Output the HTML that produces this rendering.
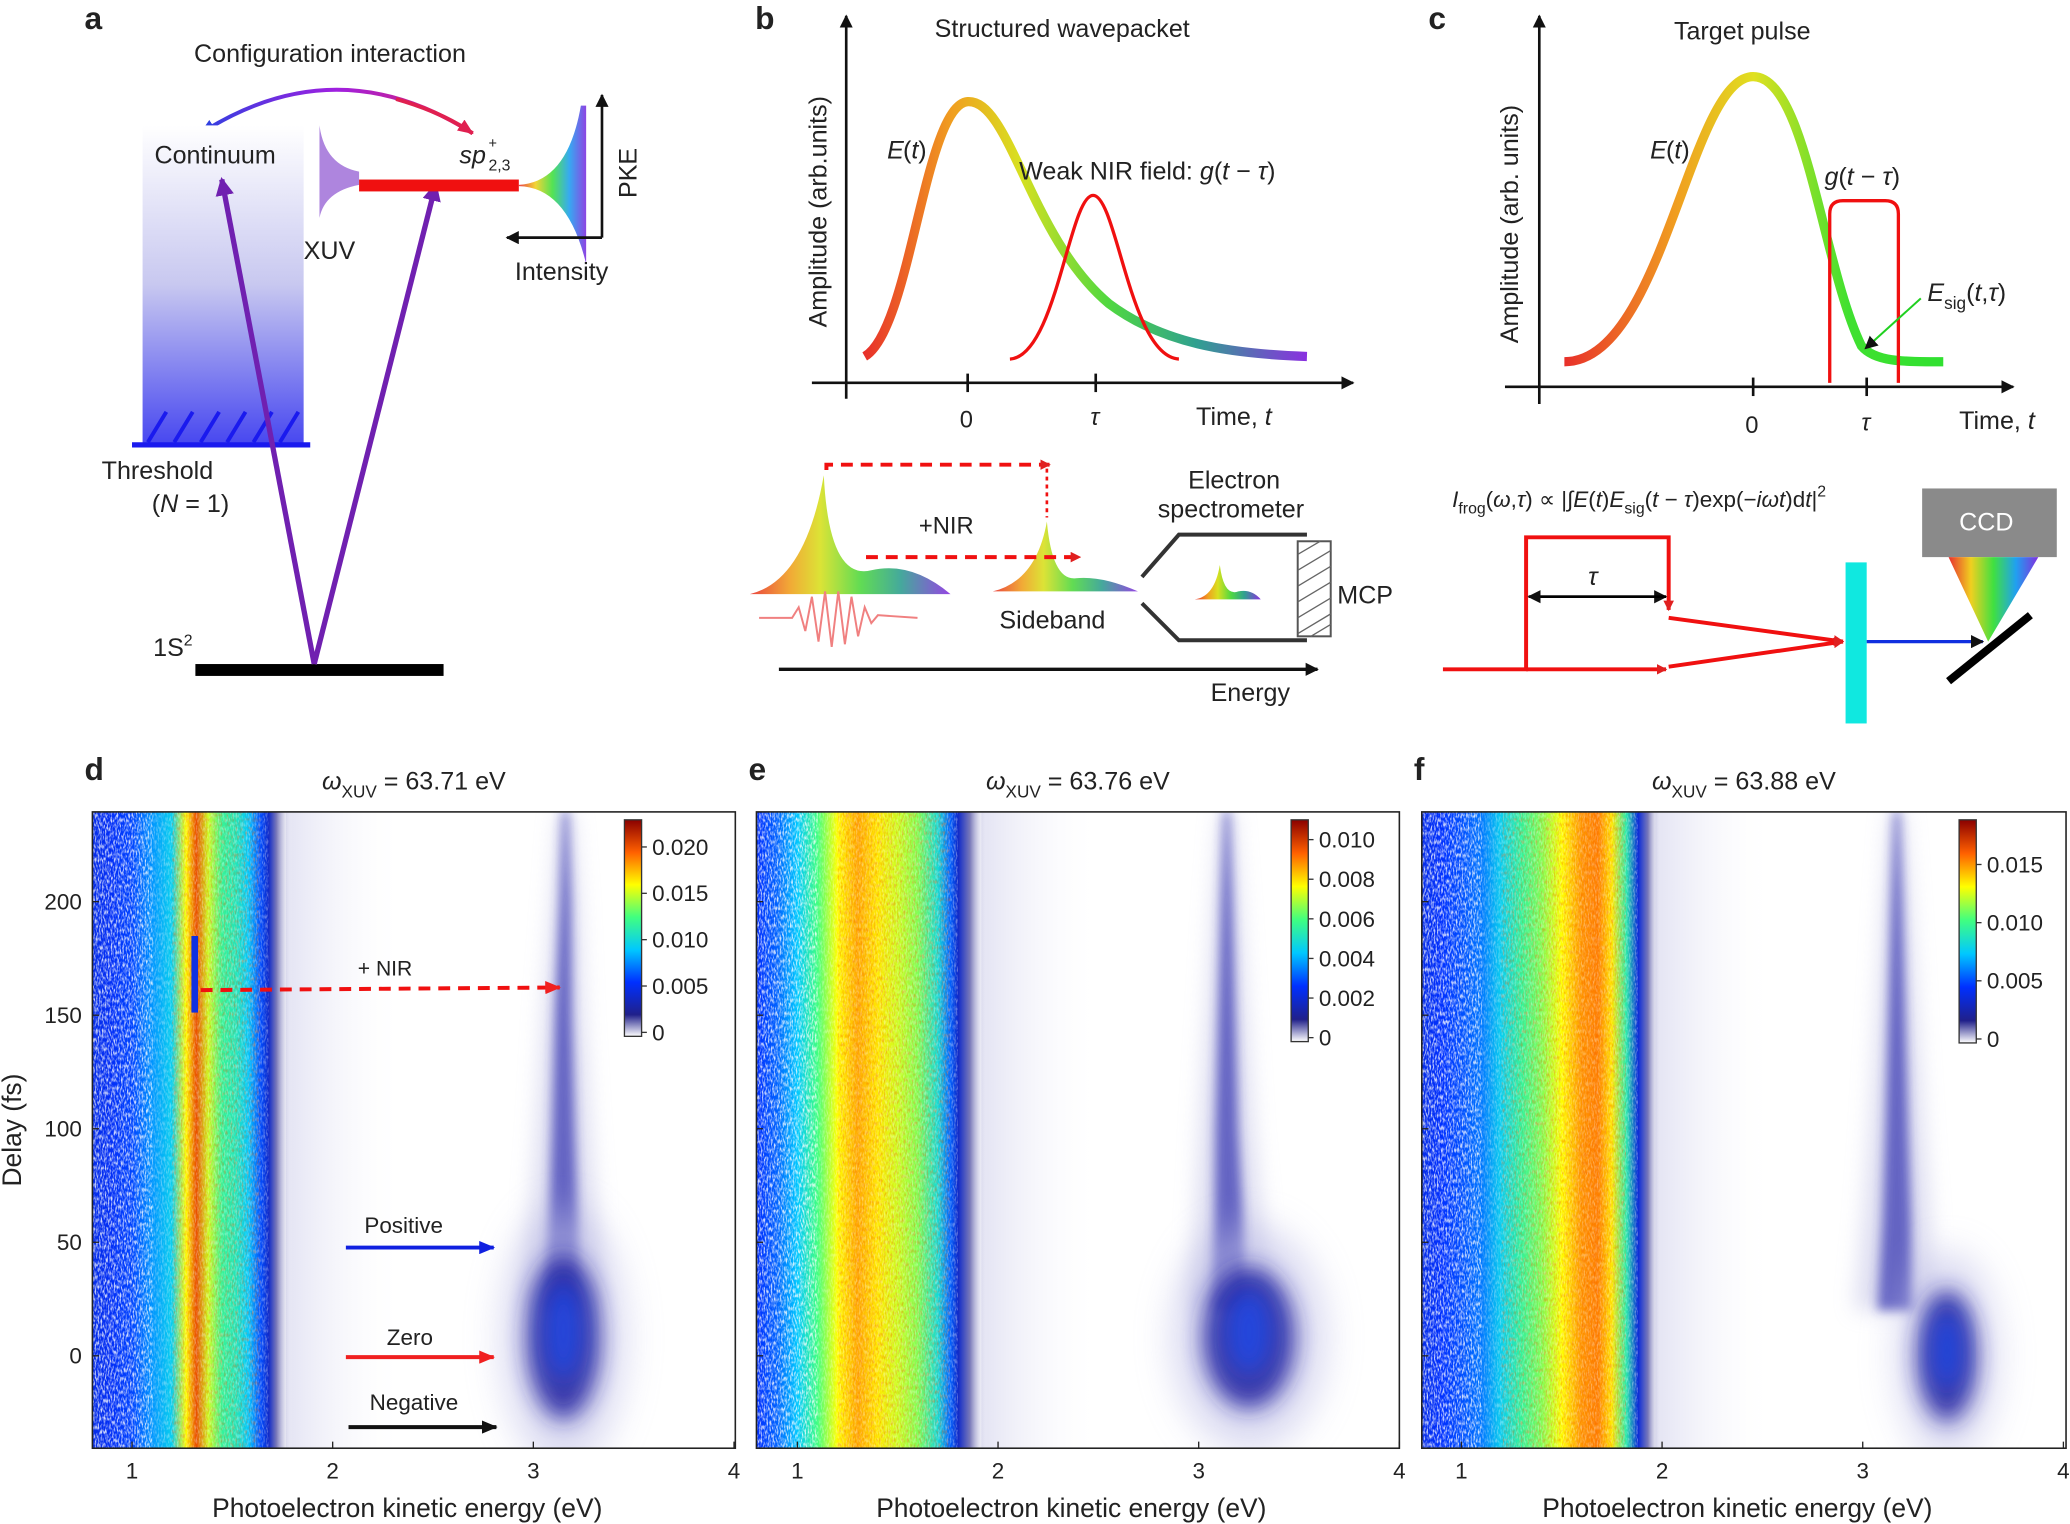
<!DOCTYPE html>
<html><head><meta charset="utf-8"><style>
html,body{margin:0;padding:0;background:#fff}
svg{display:block}
text{font-family:"Liberation Sans",sans-serif;fill:#222}
</style></head><body>
<svg id="fig" width="2070" height="1524" viewBox="0 0 1568 1154.4" preserveAspectRatio="none" xmlns="http://www.w3.org/2000/svg">
<defs>
<linearGradient id="contG" x1="0" y1="0" x2="0" y2="1"><stop offset="0" stop-color="#fff"/><stop offset="0.5" stop-color="#c8c8f0"/><stop offset="1" stop-color="#4848f0"/></linearGradient>
<linearGradient id="rainH" x1="0" y1="0" x2="1" y2="0"><stop offset="0" stop-color="#e8302a"/><stop offset="0.2" stop-color="#f0a020"/><stop offset="0.35" stop-color="#d8e020"/><stop offset="0.55" stop-color="#50d840"/><stop offset="0.75" stop-color="#30a090"/><stop offset="1" stop-color="#8a30e0"/></linearGradient>
<linearGradient id="rainC" x1="0" y1="0" x2="1" y2="0"><stop offset="0" stop-color="#e8302a"/><stop offset="0.3" stop-color="#f0a020"/><stop offset="0.5" stop-color="#e0e020"/><stop offset="0.75" stop-color="#40e030"/><stop offset="1" stop-color="#30e030"/></linearGradient>
<linearGradient id="arcG" x1="0" y1="0" x2="1" y2="0"><stop offset="0" stop-color="#3040e0"/><stop offset="0.5" stop-color="#a020e0"/><stop offset="1" stop-color="#e02060"/></linearGradient>
<linearGradient id="ccdG" x1="0" y1="0" x2="1" y2="0"><stop offset="0" stop-color="#e83030"/><stop offset="0.25" stop-color="#f0d020"/><stop offset="0.5" stop-color="#40e040"/><stop offset="0.75" stop-color="#20a0f0"/><stop offset="1" stop-color="#8030e0"/></linearGradient>
<linearGradient id="cmap" x1="0" y1="1" x2="0" y2="0"><stop offset="0" stop-color="#fff"/><stop offset="0.1" stop-color="#20208a"/><stop offset="0.25" stop-color="#0030ff"/><stop offset="0.4" stop-color="#00c8ff"/><stop offset="0.55" stop-color="#40ff80"/><stop offset="0.7" stop-color="#ffff00"/><stop offset="0.85" stop-color="#ff6000"/><stop offset="1" stop-color="#8a0000"/></linearGradient>
<filter id="noise" x="0" y="0" width="100%" height="100%"><feTurbulence type="fractalNoise" baseFrequency="0.9 0.3" numOctaves="2" seed="3"/><feColorMatrix values="0 0 0 0 1  0 0 0 0 1  0 0 0 0 1  0 0 0 -3 1.75"/></filter>
<filter id="noise2" x="0" y="0" width="100%" height="100%"><feTurbulence type="fractalNoise" baseFrequency="0.8 0.3" numOctaves="2" seed="7"/><feColorMatrix values="0 0 0 0 0.9  0 0 0 0 0.1  0 0 0 0 0  0 0 0 -3 1.6"/></filter>
<filter id="blur8" x="-50%" y="-50%" width="200%" height="200%"><feGaussianBlur stdDeviation="8"/></filter>
<filter id="blur14" x="-50%" y="-50%" width="200%" height="200%"><feGaussianBlur stdDeviation="14"/></filter>
<filter id="blur4" x="-50%" y="-50%" width="200%" height="200%"><feGaussianBlur stdDeviation="4"/></filter>
<marker id="mRed" markerWidth="8" markerHeight="8" refX="7" refY="4" orient="auto" markerUnits="userSpaceOnUse"><path d="M0,0L8,4L0,8z" fill="#e02020"/></marker>
<marker id="mBlue" markerWidth="12" markerHeight="10" refX="11" refY="5" orient="auto" markerUnits="userSpaceOnUse"><path d="M0,0L12,5L0,10z" fill="#1020e0"/></marker>
<marker id="mRed2" markerWidth="12" markerHeight="10" refX="11" refY="5" orient="auto" markerUnits="userSpaceOnUse"><path d="M0,0L12,5L0,10z" fill="#f02020"/></marker>
<marker id="mBlk" markerWidth="12" markerHeight="10" refX="11" refY="5" orient="auto" markerUnits="userSpaceOnUse"><path d="M0,0L12,5L0,10z" fill="#111"/></marker>
<marker id="mPur" markerWidth="14" markerHeight="14" refX="12" refY="7" orient="auto" markerUnits="userSpaceOnUse"><path d="M0,0L14,7L0,14z" fill="#7020b0"/></marker>
<marker id="mArc1" markerWidth="12" markerHeight="10" refX="11" refY="5" orient="auto" markerUnits="userSpaceOnUse"><path d="M0,0L12,5L0,10z" fill="#e02050"/></marker>
<marker id="mArc0" markerWidth="12" markerHeight="10" refX="11" refY="5" orient="auto" markerUnits="userSpaceOnUse"><path d="M0,0L12,5L0,10z" fill="#3040e0"/></marker>
<marker id="mK" markerWidth="10" markerHeight="10" refX="9" refY="5" orient="auto" markerUnits="userSpaceOnUse"><path d="M0,0L10,5L0,10z" fill="#111"/></marker>
</defs>

<!-- ===== Panel a ===== -->
<g>
<text x="64" y="22" font-size="24" font-weight="bold" fill="#000">a</text>
<text x="147" y="47" font-size="19">Configuration interaction</text>
<path d="M358,101 Q255,35 152,101" fill="none" stroke="url(#arcG)" stroke-width="3" marker-end="url(#mArc0)"/>
<path d="M300,75 Q335,85 358,101" fill="none" stroke="#e02050" stroke-width="3" marker-end="url(#mArc1)"/>
<rect x="108" y="95" width="122" height="241" fill="url(#contG)"/>
<text x="117" y="124" font-size="19">Continuum</text>
<line x1="100" y1="337" x2="235" y2="337" stroke="#1a1aee" stroke-width="4"/>
<g stroke="#1a1aee" stroke-width="3"><line x1="112" y1="335" x2="126" y2="312"/><line x1="132" y1="335" x2="146" y2="312"/><line x1="152" y1="335" x2="166" y2="312"/><line x1="172" y1="335" x2="186" y2="312"/><line x1="192" y1="335" x2="206" y2="312"/><line x1="212" y1="335" x2="226" y2="312"/></g>
<text x="77" y="363" font-size="19">Threshold</text>
<text x="115" y="388" font-size="19">(<tspan font-style="italic">N</tspan> = 1)</text>
<rect x="148" y="503" width="188" height="9" fill="#000"/>
<text x="116" y="497" font-size="19">1S<tspan dy="-8" font-size="12">2</tspan></text>
<line x1="238" y1="503" x2="168" y2="136" stroke="#7020b0" stroke-width="4" marker-end="url(#mPur)"/>
<line x1="238" y1="503" x2="330" y2="140" stroke="#7020b0" stroke-width="4" marker-end="url(#mPur)"/>
<path d="M242,95 Q246,125 272,130 L272,140 Q246,145 242,165 Z" fill="#a070d8" opacity="0.85"/>
<text x="230" y="196" font-size="19">XUV</text>
<rect x="272" y="136" width="121" height="9" fill="#f01010"/>
<text x="348" y="124" font-size="19" font-style="italic">sp</text><text x="370" y="112" font-size="11">+</text><text x="370" y="129" font-size="12">2,3</text>
<path d="M393,140 Q430,138 440,80 L444,80 L444,200 Q430,142 393,141 Z" fill="url(#ccdG)" opacity="0.9"/>
<line x1="456" y1="180" x2="456" y2="72" stroke="#111" stroke-width="2" marker-end="url(#mK)"/>
<line x1="456" y1="180" x2="384" y2="180" stroke="#111" stroke-width="2" marker-end="url(#mK)"/>
<text x="482" y="150" font-size="19" transform="rotate(-90 482 150)">PKE</text>
<text x="390" y="212" font-size="19">Intensity</text>
</g>

<!-- ===== Panel b ===== -->
<g>
<text x="572" y="22" font-size="24" font-weight="bold" fill="#000">b</text>
<text x="708" y="28" font-size="19">Structured wavepacket</text>
<line x1="641" y1="302" x2="641" y2="12" stroke="#111" stroke-width="2" marker-end="url(#mK)"/>
<line x1="615" y1="290" x2="1025" y2="290" stroke="#111" stroke-width="2" marker-end="url(#mK)"/>
<line x1="733" y1="283" x2="733" y2="297" stroke="#111" stroke-width="2"/>
<line x1="830" y1="283" x2="830" y2="297" stroke="#111" stroke-width="2"/>
<text x="727" y="324" font-size="18">0</text><text x="826" y="322" font-size="18" font-style="italic">τ</text>
<text x="906" y="322" font-size="19">Time, <tspan font-style="italic">t</tspan></text>
<text x="626" y="248" font-size="19" transform="rotate(-90 626 248)">Amplitude (arb.units)</text>
<path d="M655,270 C690,250 700,80 733,77 C765,75 780,180 840,230 C880,260 930,268 990,270" fill="none" stroke="url(#rainH)" stroke-width="7"/>
<path d="M765,272 C800,270 810,148 828,148 C846,148 856,270 893,272" fill="none" stroke="#f01010" stroke-width="2.5"/>
<text x="672" y="120" font-size="19" font-style="italic">E</text><text x="684" y="120" font-size="19">(<tspan font-style="italic">t</tspan>)</text>
<text x="772" y="136" font-size="19">Weak NIR field: <tspan font-style="italic">g</tspan>(<tspan font-style="italic">t</tspan> − <tspan font-style="italic">τ</tspan>)</text>
<path d="M568,450 Q610,440 624,360 Q628,440 660,432 Q690,425 720,450 Z" fill="url(#rainH)" opacity="0.9"/>
<path d="M752,448 Q785,440 793,395 Q797,440 815,438 Q835,436 862,448 Z" fill="url(#rainH)" opacity="0.9"/>
<path d="M575,468 L600,468 L605,460 L610,478 L615,452 L620,486 L625,448 L630,490 L635,448 L640,488 L645,452 L650,482 L655,460 L660,472 L665,466 L695,468" fill="none" stroke="#f08080" stroke-width="1.5"/>
<path d="M626,356 L626,352 L795,352" fill="none" stroke="#f01010" stroke-width="3" stroke-dasharray="9,6" marker-end="url(#mRed)"/>
<line x1="793" y1="355" x2="793" y2="392" stroke="#f01010" stroke-width="2" stroke-dasharray="3,3"/>
<path d="M656,422 L818,422" fill="none" stroke="#f01010" stroke-width="3" stroke-dasharray="9,6" marker-end="url(#mRed)"/>
<text x="696" y="404" font-size="18">+NIR</text>
<text x="757" y="476" font-size="19">Sideband</text>
<text x="900" y="370" font-size="19">Electron</text>
<text x="877" y="392" font-size="19">spectrometer</text>
<path d="M865,437 L893,405 L990,405 M865,457 L893,485 L990,485" fill="none" stroke="#333" stroke-width="3"/>
<rect x="983" y="410" width="25" height="72" fill="#fff" stroke="#555" stroke-width="1.5"/>
<g stroke="#666" stroke-width="1"><line x1="983" y1="420" x2="1000" y2="410"/><line x1="983" y1="432" x2="1008" y2="417"/><line x1="983" y1="444" x2="1008" y2="429"/><line x1="983" y1="456" x2="1008" y2="441"/><line x1="983" y1="468" x2="1008" y2="453"/><line x1="983" y1="480" x2="1008" y2="465"/><line x1="993" y1="482" x2="1008" y2="473"/></g>
<text x="1013" y="457" font-size="19">MCP</text>
<path d="M905,454 Q920,452 924,428 Q927,452 938,448 Q948,446 955,454 Z" fill="url(#rainH)"/>
<line x1="590" y1="507" x2="998" y2="507" stroke="#111" stroke-width="2.5" marker-end="url(#mK)"/>
<text x="917" y="531" font-size="19">Energy</text>
</g>

<!-- ===== Panel c ===== -->
<g>
<text x="1082" y="22" font-size="24" font-weight="bold" fill="#000">c</text>
<text x="1268" y="30" font-size="19">Target pulse</text>
<line x1="1166" y1="306" x2="1166" y2="12" stroke="#111" stroke-width="2" marker-end="url(#mK)"/>
<line x1="1140" y1="293" x2="1525" y2="293" stroke="#111" stroke-width="2" marker-end="url(#mK)"/>
<line x1="1328" y1="286" x2="1328" y2="300" stroke="#111" stroke-width="2"/>
<line x1="1414" y1="286" x2="1414" y2="300" stroke="#111" stroke-width="2"/>
<text x="1322" y="328" font-size="18">0</text><text x="1410" y="326" font-size="18" font-style="italic">τ</text>
<text x="1484" y="325" font-size="19">Time, <tspan font-style="italic">t</tspan></text>
<text x="1150" y="260" font-size="19" transform="rotate(-90 1150 260)">Amplitude (arb. units)</text>
<path d="M1185,274 C1260,274 1280,58 1328,58 C1368,58 1380,200 1410,262 C1420,274 1440,274 1472,274" fill="none" stroke="url(#rainC)" stroke-width="7"/>
<path d="M1386,290 L1386,162 Q1386,152 1396,152 L1428,152 Q1438,152 1438,162 L1438,290" fill="none" stroke="#f01010" stroke-width="2.5"/>
<text x="1250" y="120" font-size="19" font-style="italic">E</text><text x="1262" y="120" font-size="19">(<tspan font-style="italic">t</tspan>)</text>
<text x="1382" y="140" font-size="19"><tspan font-style="italic">g</tspan>(<tspan font-style="italic">t</tspan> − <tspan font-style="italic">τ</tspan>)</text>
<text x="1460" y="228" font-size="19"><tspan font-style="italic">E</tspan><tspan font-size="13" dy="6">sig</tspan><tspan dy="-6">(</tspan><tspan font-style="italic">t</tspan>,<tspan font-style="italic">τ</tspan>)</text>
<line x1="1455" y1="226" x2="1413" y2="264" stroke="#20d020" stroke-width="1.5" marker-end="url(#mK)"/>
<text x="1100" y="384" font-size="17"><tspan font-style="italic">I</tspan><tspan font-size="12" dy="5">frog</tspan><tspan dy="-5">(</tspan><tspan font-style="italic">ω</tspan>,<tspan font-style="italic">τ</tspan>) ∝ |∫<tspan font-style="italic">E</tspan>(<tspan font-style="italic">t</tspan>)<tspan font-style="italic">E</tspan><tspan font-size="12" dy="5">sig</tspan><tspan dy="-5">(</tspan><tspan font-style="italic">t</tspan> − <tspan font-style="italic">τ</tspan>)exp(−<tspan font-style="italic">iωt</tspan>)d<tspan font-style="italic">t</tspan>|<tspan font-size="12" dy="-8">2</tspan></text>
<rect x="1456" y="370" width="102" height="52" fill="#8a8a8a"/>
<text x="1484" y="402" font-size="19" style="fill:#fff">CCD</text>
<path d="M1476,422 L1544,422 L1506,486 Z" fill="url(#ccdG)"/>
<line x1="1476" y1="516" x2="1538" y2="466" stroke="#000" stroke-width="6"/>
<path d="M1093,507 L1156,507 L1156,407 L1264,407 L1264,462" fill="none" stroke="#f01010" stroke-width="3" marker-end="url(#mRed)"/>
<line x1="1156" y1="507" x2="1262" y2="507" stroke="#f01010" stroke-width="3" marker-end="url(#mRed)"/>
<line x1="1158" y1="452" x2="1262" y2="452" stroke="#000" stroke-width="2" marker-end="url(#mK)"/>
<line x1="1262" y1="452" x2="1158" y2="452" stroke="#000" stroke-width="2" marker-end="url(#mK)"/>
<text x="1203" y="443" font-size="19" font-style="italic">τ</text>
<line x1="1264" y1="468" x2="1396" y2="486" stroke="#f01010" stroke-width="3" marker-end="url(#mRed)"/>
<line x1="1264" y1="505" x2="1396" y2="486" stroke="#f01010" stroke-width="3" marker-end="url(#mRed)"/>
<rect x="1398" y="426" width="16" height="122" fill="#10e8e0"/>
<line x1="1414" y1="486" x2="1502" y2="486" stroke="#1030e0" stroke-width="2.5" marker-end="url(#mK)"/>
</g>

<g id="heatmaps"></g>
</svg>
<script>
// ===== Heatmap data =====
const bandE_d = [0.8, 0.9, 1.0, 1.1, 1.2, 1.27, 1.32, 1.38, 1.45, 1.52, 1.58, 1.64, 1.68, 1.72, 1.8];
const bandI_d = [0.22, 0.24, 0.27, 0.35, 0.42, 0.7, 0.88, 0.66, 0.52, 0.48, 0.4, 0.28, 0.18, 0.06, 0.0];
const bandE_e = [0.8, 0.9, 1.0, 1.1, 1.2, 1.3, 1.4, 1.5, 1.6, 1.7, 1.76, 1.8, 1.86, 1.95];
const bandI_e = [0.25, 0.3, 0.4, 0.55, 0.7, 0.78, 0.72, 0.66, 0.6, 0.45, 0.3, 0.18, 0.06, 0.0];
const bandE_f = [0.8, 0.9, 1.0, 1.1, 1.2, 1.3, 1.4, 1.5, 1.6, 1.68, 1.75, 1.82, 1.88, 1.93, 2.0];
const bandI_f = [0.22, 0.25, 0.28, 0.32, 0.42, 0.52, 0.6, 0.7, 0.8, 0.82, 0.72, 0.5, 0.2, 0.06, 0.0];
// sideband blob [energy eV, delay fs, width eV, height fs]
const blob_d = [3.15, 8, 0.16, 30];
const blob_e = [3.25, 8, 0.2, 26];
const blob_f = [3.42, 0, 0.13, 24];
// tail ridge energy vs delay
const tailDelay = [20, 60, 100, 150, 200, 240];
const tailE_d = [3.14, 3.15, 3.15, 3.15, 3.16, 3.16];
const tailE_e = [3.15, 3.15, 3.14, 3.14, 3.14, 3.14];
const tailE_f = [3.16, 3.17, 3.17, 3.17, 3.17, 3.17];
const xTicks = [1, 2, 3, 4];
const yTicks = [0, 50, 100, 150, 200];
const cbTicks_d = [0, 0.005, 0.010, 0.015, 0.020];
const cbTicks_e = [0, 0.002, 0.004, 0.006, 0.008, 0.010];
const cbTicks_f = [0, 0.005, 0.010, 0.015];
const cbMax = [0.0225, 0.0108, 0.0185];
const titles = ["63.71", "63.76", "63.88"];

const NS = "http://www.w3.org/2000/svg";
const root = document.getElementById('heatmaps');
const defs = document.querySelector('defs');
function mk(tag, attrs, parent){const e=document.createElementNS(NS,tag);for(const k in attrs)e.setAttribute(k,attrs[k]);(parent||root).appendChild(e);return e;}
const cmapStops=[[0,[255,255,255]],[0.1,[32,32,138]],[0.25,[0,48,255]],[0.4,[0,200,255]],[0.55,[64,255,128]],[0.7,[255,255,0]],[0.85,[255,96,0]],[1,[138,0,0]]];
function cmap(v){v=Math.max(0,Math.min(1,v));for(let i=1;i<cmapStops.length;i++){if(v<=cmapStops[i][0]){const a=cmapStops[i-1],b=cmapStops[i];const t=(v-a[0])/(b[0]-a[0]);const c=a[1].map((x,j)=>Math.round(x+(b[1][j]-x)*t));return `rgb(${c})`;}}return 'rgb(138,0,0)';}

const panels=[
 {L:'d',x0:70,x1:557,eAt1:100,ppe:152,band:[bandE_d,bandI_d],blob:blob_d,tail:tailE_d,cb:cbTicks_d,cbx:473,cby0:621,cby1:785},
 {L:'e',x0:573,x1:1060,eAt1:604,ppe:152,band:[bandE_e,bandI_e],blob:blob_e,tail:tailE_e,cb:cbTicks_e,cbx:978,cby0:621,cby1:789},
 {L:'f',x0:1077,x1:1565,eAt1:1107,ppe:152,band:[bandE_f,bandI_f],blob:blob_f,tail:tailE_f,cb:cbTicks_f,cbx:1484,cby0:621,cby1:790}
];
const yTop=615,yBot=1097;
function yOf(d){return 1027-d*1.72;}

panels.forEach((p,pi)=>{
  const xOf=e=>p.eAt1+(e-1)*p.ppe;
  const g=mk('g',{});
  
  
  const cid='clip'+p.L;
  const cp=mk('clipPath',{id:cid},defs);mk('rect',{x:p.x0,y:yTop,width:p.x1-p.x0,height:yBot-yTop},cp);
  const inner=mk('g',{'clip-path':`url(#${cid})`},g);
  mk('rect',{x:p.x0,y:yTop,width:p.x1-p.x0,height:yBot-yTop,fill:'#fff'},inner);
  const bE=p.band[0], bI=p.band[1];
  const eEnd=bE[bE.length-1];
  // faint haze right of band
  const hid='haze'+p.L;
  const hg=mk('linearGradient',{id:hid,x1:0,y1:0,x2:1,y2:0},defs);
  mk('stop',{offset:0,'stop-color':'#dcdcf0','stop-opacity':0.8},hg);mk('stop',{offset:1,'stop-color':'#fff','stop-opacity':0},hg);
  mk('rect',{x:xOf(eEnd)-5,y:yTop,width:90,height:yBot-yTop,fill:`url(#${hid})`},inner);
  // band gradient
  const gid='band'+p.L;
  const lg=mk('linearGradient',{id:gid,gradientUnits:'userSpaceOnUse',x1:xOf(bE[0]),y1:0,x2:xOf(eEnd),y2:0},defs);
  const span=eEnd-bE[0];
  bE.forEach((e,i)=>{const st=mk('stop',{offset:(e-bE[0])/span,'stop-color':cmap(bI[i])},lg);if(i===bE.length-1)st.setAttribute('stop-opacity',0);});
  const band=mk('rect',{x:p.x0,y:yTop,width:xOf(eEnd)-p.x0,height:yBot-yTop,fill:`url(#${gid})`},inner);
  
  
  // noise overlays
  mk('rect',{x:p.x0,y:yTop,width:xOf(bE[3])-p.x0,height:yBot-yTop,filter:'url(#noise)',opacity:0.8},inner);
  mk('rect',{x:xOf(bE[3]),y:yTop,width:xOf(bE[bE.length-3])-xOf(bE[3]),height:yBot-yTop,filter:'url(#noise)',opacity:0.35},inner);
  mk('rect',{x:xOf(bE[4]),y:yTop,width:xOf(bE[bE.length-4])-xOf(bE[4]),height:yBot-yTop,filter:'url(#noise2)',opacity:0.35},inner);
  // tail (halo + core)
  const pts=p.tail.map((e,i)=>[xOf(e),yOf(tailDelay[i])]);
  function ribbon(w0,dw){let a='',b='';pts.forEach((q,i)=>{a+=(i?'L':'M')+(q[0]-(w0-i*dw))+','+q[1];});
    for(let i=pts.length-1;i>=0;i--){b+='L'+(pts[i][0]+(w0-i*dw))+','+pts[i][1];}return a+b+'Z';}
  mk('path',{d:ribbon(30,5),fill:'#c4c4e6',opacity:0.6,filter:'url(#blur8)'},inner);
  const tail=mk('path',{d:ribbon(13,2.2),fill:'#3030b0',opacity:0.7,filter:'url(#blur4)'},inner);
  
  
  // blob
  const bx=xOf(p.blob[0]),by=yOf(p.blob[1]),rx=p.blob[2]*p.ppe,ry=p.blob[3]*1.72;
  mk('ellipse',{cx:bx,cy:by,rx:rx*1.9,ry:ry*1.9,fill:'#b8b8e4',opacity:0.55,filter:'url(#blur14)'},inner);
  mk('ellipse',{cx:bx,cy:by,rx:rx*1.15,ry:ry*1.2,fill:'#2424a0',opacity:0.85,filter:'url(#blur8)'},inner);
  const blob=mk('ellipse',{cx:bx,cy:by-ry*0.1,rx:rx*0.55,ry:ry*0.7,fill:'#1a4ae8',opacity:0.8,filter:'url(#blur8)'},inner);
  
  
  // frame
  mk('rect',{x:p.x0,y:yTop,width:p.x1-p.x0,height:yBot-yTop,fill:'none',stroke:'#222','stroke-width':1.2},g);
  xTicks.forEach(t=>{const x=xOf(t);mk('line',{x1:x,y1:yBot,x2:x,y2:yBot-5,stroke:'#222'},g);
    const tx=mk('text',{x:x,y:yBot+23,'font-size':17,'text-anchor':'middle'},g);tx.textContent=t;
    
    });
  const xl=mk('text',{x:(p.x0+p.x1)/2-5,y:1149,'font-size':20,'text-anchor':'middle'},g);xl.textContent='Photoelectron kinetic energy (eV)';
  
  
  yTicks.forEach(t=>{const y=yOf(t);mk('line',{x1:p.x0,y1:y,x2:p.x0+5,y2:y,stroke:'#222'},g);
    if(pi===0){const tx=mk('text',{x:62,y:y+6,'font-size':17,'text-anchor':'end'},g);tx.textContent=t;
      
      }});
  const lt=mk('text',{x:p.x0-6,y:591,'font-size':24,'font-weight':'bold'},g);lt.textContent=p.L;
  const tt=mk('text',{x:(p.x0+p.x1)/2,y:598,'font-size':19,'text-anchor':'middle'},g);
  tt.innerHTML=`<tspan font-style="italic">ω</tspan><tspan font-size="13" dy="6">XUV</tspan><tspan dy="-6"> = ${titles[pi]} eV</tspan>`;
  
  
  const cb=mk('rect',{x:p.cbx,y:p.cby0,width:13,height:p.cby1-p.cby0,fill:'url(#cmap)',stroke:'#333','stroke-width':1},g);
  
  
  const cbY=v=>p.cby1-3-(v/cbMax[pi])*(p.cby1-p.cby0-6);
  p.cb.forEach(v=>{const y=cbY(v);mk('line',{x1:p.cbx+13,y1:y,x2:p.cbx+17,y2:y,stroke:'#333'},g);
    const tx=mk('text',{x:p.cbx+21,y:y+6,'font-size':17},g);tx.textContent=v===0?'0':v.toFixed(3);
    
    });
});
const yt=mk('text',{x:16,y:856,'font-size':20,'text-anchor':'middle',transform:'rotate(-90 16 856)'});yt.textContent='Delay (fs)';


const ann=mk('g',{});


mk('rect',{x:145,y:709,width:5,height:58,fill:'#1030e0'},ann);
mk('line',{x1:152,y1:750,x2:424,y2:748,stroke:'#f01010','stroke-width':3,'stroke-dasharray':'9,6','marker-end':'url(#mRed2)'},ann);
let t=mk('text',{x:271,y:739,'font-size':16},ann);t.textContent='+ NIR';
t=mk('text',{x:276,y:934,'font-size':17},ann);t.textContent='Positive';
mk('line',{x1:262,y1:945,x2:374,y2:945,stroke:'#1020e0','stroke-width':3,'marker-end':'url(#mBlue)'},ann);
t=mk('text',{x:293,y:1019,'font-size':17},ann);t.textContent='Zero';
mk('line',{x1:262,y1:1028,x2:374,y2:1028,stroke:'#f02020','stroke-width':3,'marker-end':'url(#mRed2)'},ann);
t=mk('text',{x:280,y:1068,'font-size':17},ann);t.textContent='Negative';
mk('line',{x1:264,y1:1081,x2:376,y2:1081,stroke:'#111','stroke-width':3,'marker-end':'url(#mBlk)'},ann);
</script>
</body></html>
